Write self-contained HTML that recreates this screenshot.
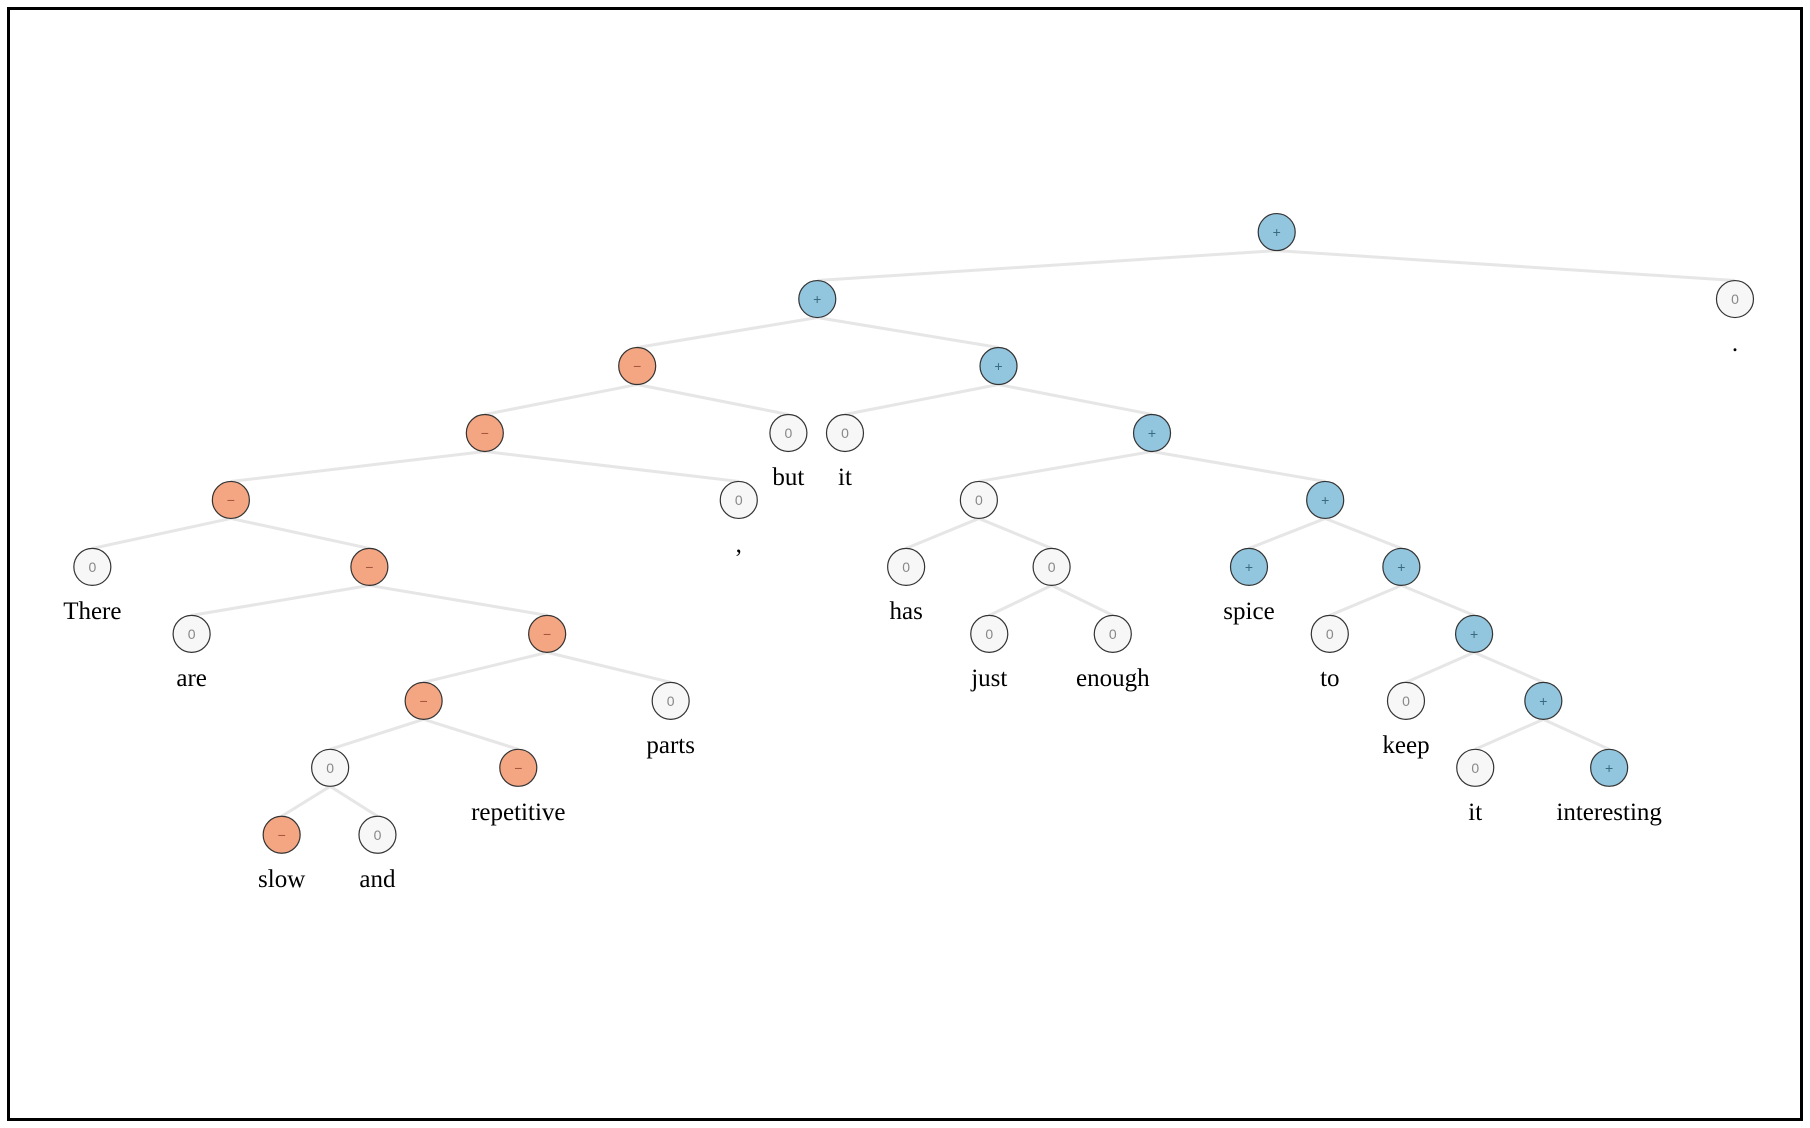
<!DOCTYPE html>
<html><head><meta charset="utf-8"><style>
html,body{margin:0;padding:0;background:#fff;}
#frame{position:absolute;left:7px;top:7px;width:1790px;height:1108px;border:3px solid #000;box-sizing:content-box;}
svg{position:absolute;left:0;top:0;}
</style></head><body>
<div id="frame"></div>
<svg id="tree" width="1810" height="1128"></svg>
<script>
// node data: display-x position index, depth, sentiment, word label, parent index
const nodeXs = [1106,708,1503,552,865,420,683,732,998,200,640,848,1148,80,320,785,911,1082,1214,166,474,857,964,1152,1277,367,581,1218,1337,286,449,1278,1394,244,327];
const nodeDepth = [0,1,1,2,2,3,3,3,3,4,4,4,4,5,5,5,5,5,5,6,6,6,6,6,6,7,7,7,7,8,8,8,8,9,9];
const nodeSent = ['+','+','0','-','+','-','0','0','+','-','0','0','+','0','-','0','0','+','+','0','-','0','0','0','+','-','0','0','+','0','-','0','+','-','0'];
const nodeWords = ['','','.','','','','but','it','','',',','','','There','','has','','spice','','are','','just','enough','to','','','parts','keep','','','repetitive','it','interesting','slow','and'];
const nodeParent = [-1,0,0,1,1,3,3,4,4,5,5,8,8,9,9,11,11,12,12,14,14,16,16,18,18,20,20,24,24,25,25,28,28,29,29];

const S = 1810/1568;
const R = 18.5;
const xPos = v => v*S;
const yPos = d => (201 + d*58)*1.1546;
const fill = {'+':'#92c5de','-':'#f4a582','0':'#f7f7f7'};
const sym = {'+':'+','-':'\u2212','0':'0'};
const NS = 'http://www.w3.org/2000/svg';
const svg = document.getElementById('tree');
const gE = document.createElementNS(NS,'g');


svg.appendChild(gE);
const gN = document.createElementNS(NS,'g');


svg.appendChild(gN);

for (let i=0;i<nodeXs.length;i++){
  const p = nodeParent[i];
  if (p<0) continue;
  const l = document.createElementNS(NS,'line');
  l.setAttribute('x1',xPos(nodeXs[p])); l.setAttribute('y1',yPos(nodeDepth[p])+R);
  l.setAttribute('x2',xPos(nodeXs[i])); l.setAttribute('y2',yPos(nodeDepth[i])-R);
  l.setAttribute('stroke','#e6e6e6'); l.setAttribute('stroke-width','3');
  
  
  gE.appendChild(l);
}
for (let i=0;i<nodeXs.length;i++){
  const cx = xPos(nodeXs[i]), cy = yPos(nodeDepth[i]);
  const c = document.createElementNS(NS,'circle');
  c.setAttribute('cx',cx); c.setAttribute('cy',cy); c.setAttribute('r',R);
  c.setAttribute('fill',fill[nodeSent[i]]); c.setAttribute('stroke','#333'); c.setAttribute('stroke-width','1.2');
  
  
  gN.appendChild(c);
  const t = document.createElementNS(NS,'text');
  t.setAttribute('x',cx); t.setAttribute('y',cy+5);
  t.setAttribute('text-anchor','middle');
  t.setAttribute('font-family','Liberation Sans, sans-serif');
  t.setAttribute('font-size','14');
  t.setAttribute('fill', nodeSent[i]==='0' ? '#888' : (nodeSent[i]==='+' ? '#3a6a80' : '#a0553a'));
  t.textContent = sym[nodeSent[i]];
  
  
  gN.appendChild(t);
  if (nodeWords[i]){
    const w = document.createElementNS(NS,'text');
    w.setAttribute('x',cx); w.setAttribute('y',cy+52);
    w.setAttribute('text-anchor','middle');
    w.setAttribute('font-family','Liberation Serif, serif');
    w.setAttribute('font-size','25');
    w.setAttribute('fill','#000');
    w.textContent = nodeWords[i];
    
    
    gN.appendChild(w);
  }
}
</script>
</body></html>
